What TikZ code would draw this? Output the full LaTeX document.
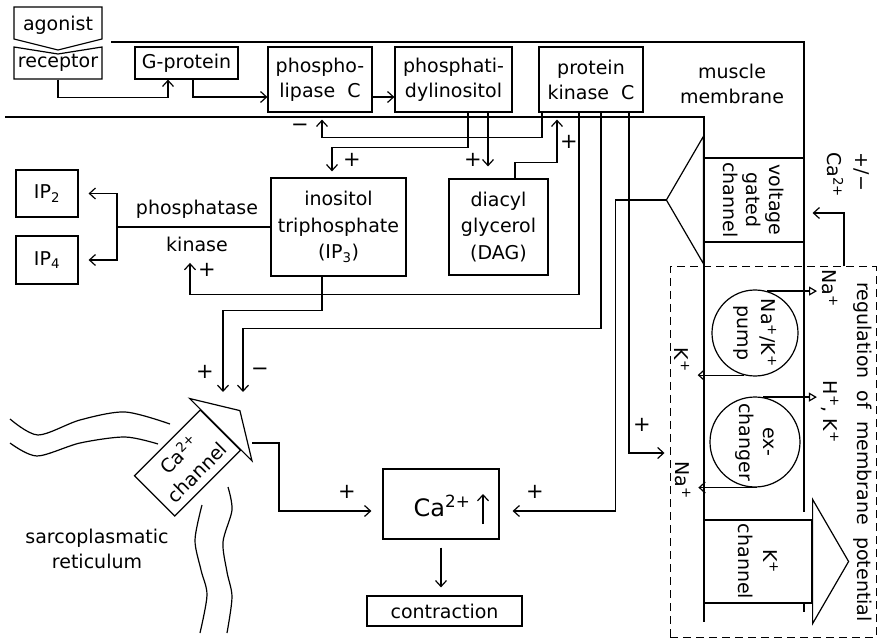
\documentclass[tikz,border=0pt]{standalone}
\usepackage{fontspec}
\setmainfont{DejaVu Sans}
\usetikzlibrary{arrows.meta,calc}

\begin{document}
\begin{tikzpicture}[
    x=1pt, y=-1pt,
    line width=1.2pt,
    every node/.style={font=\fontsize{19}{25}\selectfont, inner sep=0pt},
    box/.style={rectangle, draw, align=center},
    txt/.style={align=center},
    side/.style={rotate=-90, align=center},
    sign/.style={font=\fontsize{21}{21}\selectfont},
    arr/.style={-{Straight Barb[length=6pt,width=11pt]}},
    oarr/.style={-{Triangle[open,length=8pt,width=9pt]}}
]
\useasboundingbox (0,0) rectangle (879,639);

% membrane
\draw (111,42) -- (804,42) -- (804,512);
\draw (804,603) -- (804,612);
\draw (5,117) -- (704,117) -- (704,622);
\node[txt] (membrane) at (732,83.5) {muscle\\membrane};

% agonist and receptor
\draw (14,7) -- (102,7) -- (102,39) -- (58,50) -- (14,39) -- cycle;
\node (agonist) at (58,25) {agonist};
\draw (14,47) -- (58,54) -- (102,47) -- (102,79) -- (14,79) -- cycle;
\node[minimum width=88pt, minimum height=32pt] (receptor) at (58,63) {receptor};

% signalling boxes
\node[box, minimum width=103pt, minimum height=32pt] (gprot) at (186.5,63) {G-protein};
\node[box, minimum width=104pt, minimum height=65pt] (plc) at (320,79.5) {phospho-\\lipase\ \ C};
\node[box, minimum width=117pt, minimum height=65pt] (pi) at (453.5,79.5) {phosphati-\\dylinositol};
\node[box, minimum width=104pt, minimum height=65pt] (pkc) at (591,79.5) {protein\\kinase\ \ C};
\node[box, minimum width=135pt, minimum height=98pt, font=\fontsize{19}{26.5}\selectfont] (ip3) at (338.5,227) {inositol\\triphosphate\\(IP\textsubscript{3})};
\node[box, minimum width=99pt, minimum height=96pt, font=\fontsize{19}{26.5}\selectfont] (dag) at (498.5,227) {diacyl\\glycerol\\(DAG)};
\node[box, minimum width=62pt, minimum height=47pt] (ip2) at (47,193.5) {IP\textsubscript{2}};
\node[box, minimum width=62pt, minimum height=48pt] (ip4) at (47,260) {IP\textsubscript{4}};
\node (phosphatase) at (197,209) {phosphatase};
\node (kinase) at (197,244) {kinase};
\coordinate (split) at (117,227);

% Ca box and contraction
\node[box, minimum width=116pt, minimum height=70pt] (cabox) at (441,504) {};
\node[font=\fontsize{24}{24}\selectfont] (caion) at (442,506) {Ca\textsuperscript{2+}};
\draw[arr] ([xshift=42pt,yshift=-20pt]cabox.center) -- ++(0,-30);
\node[box, minimum width=155pt, minimum height=30pt] (contraction) at (444.5,611) {contraction};

% sarcoplasmatic reticulum
\draw plot[smooth] coordinates {(10,419) (38,435) (80,420) (125,412) (170,424)};
\draw plot[smooth] coordinates {(10,443) (37,456) (80,443) (125,437) (158,444)};
\draw plot[smooth] coordinates {(202,505) (195,540) (201,570) (207,595) (200,633)};
\draw plot[smooth] coordinates {(228,487) (232,510) (223,542) (227,572) (232,597) (227,633)};
\node[txt] (sr) at (97,549) {sarcoplasmatic\\reticulum};
\node[box, rotate=45, minimum width=93pt, minimum height=57pt] (cach) at (187.5,463) {Ca\textsuperscript{2+}\\channel};
\draw ($(cach.north east)!-15pt!(cach.south east)$) -- ($(cach.east)!-27pt!(cach.west)$)
    -- ($(cach.south east)!-15pt!(cach.north east)$) -- cycle;

% voltage gated channel
\node[box, minimum width=100pt, minimum height=84pt] (vgc) at (754,200) {};
\node[side, font=\fontsize{19}{23}\selectfont] (vgclbl) at (vgc) {voltage\\gated\\channel};
\draw ($(vgc.north west)!-21pt!(vgc.south west)$) -- ($(vgc.west)!-37pt!(vgc.east)$) coordinate (vapex)
    -- ($(vgc.south west)!-21pt!(vgc.north west)$) -- cycle;
\node[side] (pm) at (862,172) {+/−};
\node[side] (caext) at (835,175) {Ca\textsuperscript{2+}};

% regulation of membrane potential
\node[rectangle, draw, line width=1pt, dash pattern=on 8pt off 5pt, minimum width=206pt, minimum height=370pt] (regbox) at (773,452) {};
\node[side] (reglbl) at (863,452) {regulation\ \ of\ \ membrane\ \ potential};
\node[circle, draw, minimum size=86pt] (pump) at (755,333) {};
\node[side, font=\fontsize{19}{24}\selectfont] (pumplbl) at (pump) {Na\textsuperscript{+}/K\textsuperscript{+}\\pump};
\node[circle, draw, minimum size=90pt] (exch) at (755,442) {};
\node[side, font=\fontsize{19}{24}\selectfont] (exchlbl) at (exch) {ex-\\changer};
\node[box, minimum width=108pt, minimum height=83pt] (kch) at (758,561.5) {};
\node[side] (kchlbl) at (kch) {K\textsuperscript{+}\\channel};
\draw ($(kch.north east)!-20pt!(kch.south east)$) -- ($(kch.east)!-36pt!(kch.west)$)
    -- ($(kch.south east)!-20pt!(kch.north east)$) -- cycle;

\draw[oarr] (pump.74) -- ++(50,0);
\node[side] (na1) at (830,288) {Na\textsuperscript{+}};
\draw[arr] (pump.255) -- ++(-46,0);
\node[side] (k1) at (682,360) {K\textsuperscript{+}};
\draw[oarr] (exch.80) -- ++(54,0);
\node[side] (hk) at (830,412) {H\textsuperscript{+}, K\textsuperscript{+}};
\draw[arr] (exch.273) -- ++(-59,0);
\node[side] (na2) at (683,480) {Na\textsuperscript{+}};

% connectors
\draw[arr] (receptor.south) -- ++(0,18) -| ([xshift=-18.5pt]gprot.south);
\draw[arr] ([xshift=6.5pt]gprot.south) |- ([yshift=-17.5pt]plc.west);
\draw[arr] ([yshift=-17.5pt]plc.east) -- ([yshift=-17.5pt]pi.west);
\draw[arr] ([xshift=-49pt]pkc.south) -- ++(0,25) -| ([xshift=2pt,yshift=-7pt]plc.south);
\node[sign] (s1) at (300,128) {−};
\draw[arr] ([xshift=14.5pt]pi.south) -- ++(0,35) -| ([xshift=-6.5pt,yshift=6pt]ip3.north);
\node[sign] (s2) at (352,160) {+};
\draw[arr] ([xshift=34.5pt]pi.south) -- ([xshift=-10.5pt,yshift=12pt]dag.north);
\node[sign] (s3) at (473,160) {+};
\draw[arr] ([xshift=16.5pt]dag.north) -- ++(0,-16) -| ([xshift=-34pt,yshift=-7pt]pkc.south);
\node[sign] (s4) at (569,142) {+};
\draw[arr] ([xshift=-12pt]pkc.south) -- ++(0,182) -| ([xshift=-7pt,yshift=-11pt]kinase.south);
\node[sign] (s5) at (207,270) {+};
\draw (ip3.west) -- (split);
\draw[arr] (split) |- ([xshift=10pt]ip2.east);
\draw[arr] (split) |- ([xshift=10pt]ip4.east);
\draw[arr] ([xshift=-16.5pt]ip3.south) -- ++(0,34) -| (223,392);
\node[sign] (s6) at (205,372) {+};
\draw[arr] ([xshift=10pt]pkc.south) -- ++(0,216) -| (243,392);
\node[sign] (s7) at (260,372) {−};
\draw[arr] ([xshift=38pt]pkc.south) |- ([xshift=-5pt,yshift=-1pt]regbox.west);
\node[sign] (s8) at (642,425) {+};
\draw[arr] (vapex) -- ++(-51,0) |- ([xshift=13pt,yshift=-7pt]cabox.east);
\node[sign] (s9) at (535,492) {+};
\draw[arr] (252,443) -- (279,443) |- ([xshift=-11pt,yshift=-7pt]cabox.west);
\node[sign] (s10) at (347,492) {+};
\draw[arr] ([yshift=-8pt]cabox.south) -- ([yshift=8pt]cabox.south |- contraction.north);
\draw[arr] ([xshift=71pt]regbox.north) |- ([xshift=8pt,yshift=-13pt]vgc.east);

\end{tikzpicture}
\end{document}
